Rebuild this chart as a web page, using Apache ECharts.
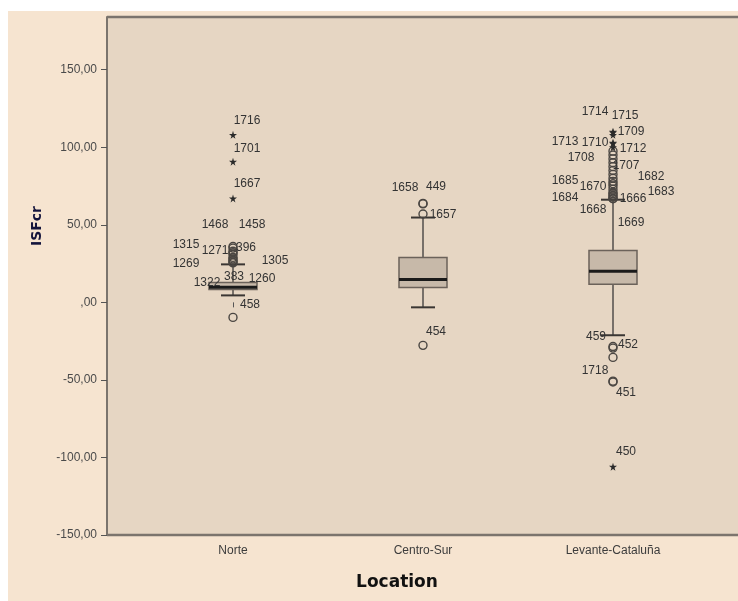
<!DOCTYPE html>
<html>

<head>
    <meta charset="UTF-8">
    <title>ISFcr by Location</title>
    <script src="https://cdn.jsdelivr.net/npm/echarts@6/dist/echarts.min.js"></script>
    <style>
        body { margin: 0; background: #ffffff; }
    </style>
</head>

<body>
    <div id="main" style="width: 738px; height: 601px;"></div>
    <script>
        // categories on the x axis
        const categories = ['Norte', 'Centro-Sur', 'Levante-Cataluña'];

        // box statistics: [lower whisker, Q1, median, Q3, upper whisker]
        const boxStats = [
            [4.5, 8.3, 9.8, 12.8, 24.5],
            [-3.2, 9.6, 14.8, 29.0, 54.7],
            [-21.2, 11.6, 20.0, 33.5, 66.2]
        ];

        // outliers (circles), per location
        const norteOutliers = [36, 35, 33, 32, 31, 29, 28, 27, 26, 25.5, -9.7];
        const norteOutlierIds = ['1468', '1458', '1315', '1271', '396', '1269', '1305', '1322', '383', '1260', '458'];
        const centroOutliers = [63.8, 63.5, 57, -27.7];
        const centroOutlierIds = ['1658', '449', '1657', '454'];
        const levanteOutliers = [97.5, 95, 92.5, 90, 87.5, 85, 82.5, 80, 78, 76.5, 75, 73, 71, 70, 69, 68, 67, 66.8,
            -28.5, -29.5, -35.5, -50.8, -51.3];
        const levanteOutlierIds = ['', '1708', '', '1707', '', '1682', '', '1685', '1670', '', '1683', '', '1684', '1666', '', '1668', '1669', '',
            '459', '452', '', '1718', '451'];

        // extreme values (stars), per location
        const norteExtremes = [108, 90.7, 67];
        const norteExtremeIds = ['1716', '1701', '1667'];
        const levanteExtremes = [110, 109.5, 108, 103, 102.5, 100, -106];
        const levanteExtremeIds = ['1714', '1715', '1709', '1713', '1710', '1712', '450'];

        // y tick labels
        const yTicks = [-150, -100, -50, 0, 50, 100, 150];

        // where each case label sits relative to its point (px)
        const labelOffset = {
            '1716': [14, -14], '1701': [14, -13], '1667': [14, -15],
            '1468': [-18, -22], '1458': [19, -23], '1315': [-47, -6], '1271': [-18, -2], '396': [13, -7],
            '1269': [-47, 6], '1305': [42, 2], '1322': [-26, 22], '383': [1, 15], '1260': [29, 16], '458': [17, -13],
            '1658': [-18, -16], '449': [13, -17], '1657': [20, 1], '454': [13, -14],
            '1714': [-18, -20], '1715': [12, -17], '1709': [18, -3], '1713': [-48, -1], '1710': [-18, -1],
            '1712': [20, 1], '1708': [-32, 3], '1707': [13, 3], '1682': [38, 6], '1685': [-48, 2], '1670': [-20, 5],
            '1683': [48, 6], '1684': [-48, 5], '1666': [20, 5], '1668': [-20, 13], '1669': [18, 24],
            '459': [-17, -10], '452': [15, -3], '1718': [-18, -10], '451': [13, 11], '450': [13, -15]
        };

        const starPath = 'path://M50,0 L61,35 L98,35 L68,57 L79,91 L50,70 L21,91 L32,57 L2,35 L39,35 Z';

        const caseLabel = {
            color: '#333333',
            fontSize: 12,
            fontFamily: 'Liberation Sans',
            textBorderWidth: 0,
            textBorderColor: 'transparent',
            opacity: 1
        };

        function points(catIndex, values, ids) {
            return values.map((v, i) => {
                const id = ids[i];
                const item = { value: [catIndex, v] };
                if (id) {
                    item.label = Object.assign({
                        show: true,
                        formatter: id,
                        position: 'inside',
                        offset: labelOffset[id] || [14, -12]
                    }, caseLabel);
                }
                return item;
            });
        }

        const circleData = [].concat(
            points(0, norteOutliers, norteOutlierIds),
            points(1, centroOutliers, centroOutlierIds),
            points(2, levanteOutliers, levanteOutlierIds)
        );
        const starData = [].concat(
            points(0, norteExtremes, norteExtremeIds),
            points(2, levanteExtremes, levanteExtremeIds)
        );

        function renderBox(params, api) {
            const x = api.value(0);
            const lo = api.coord([x, api.value(1)]);
            const q1 = api.coord([x, api.value(2)]);
            const med = api.coord([x, api.value(3)]);
            const q3 = api.coord([x, api.value(4)]);
            const hi = api.coord([x, api.value(5)]);
            const cx = lo[0];
            const half = 24;
            const cap = 12;
            return {
                type: 'group',
                children: [
                    { type: 'line', shape: { x1: cx, y1: hi[1], x2: cx, y2: q3[1] }, style: { stroke: '#777069', lineWidth: 2 } },
                    { type: 'line', shape: { x1: cx, y1: q1[1], x2: cx, y2: lo[1] }, style: { stroke: '#777069', lineWidth: 2 } },
                    { type: 'line', shape: { x1: cx - cap, y1: hi[1], x2: cx + cap, y2: hi[1] }, style: { stroke: '#3a3633', lineWidth: 2 } },
                    { type: 'line', shape: { x1: cx - cap, y1: lo[1], x2: cx + cap, y2: lo[1] }, style: { stroke: '#3a3633', lineWidth: 2 } },
                    {
                        type: 'rect',
                        shape: { x: cx - half, y: q3[1], width: half * 2, height: q1[1] - q3[1] },
                        style: { fill: '#c7b9a9', stroke: '#6b625a', lineWidth: 1.5 }
                    },
                    { type: 'line', shape: { x1: cx - half, y1: med[1], x2: cx + half, y2: med[1] }, style: { stroke: '#1a1a1a', lineWidth: 3 } }
                ]
            };
        }

        const fmt = v => (v === 0 ? ',00' : v.toFixed(2).replace('.', ','));

        const option = {
            animation: false,
            graphic: [
                { type: 'rect', z: -10, shape: { x: 8, y: 11, width: 730, height: 590 }, style: { fill: '#f6e4d0' } },
                { type: 'rect', z: -9, shape: { x: 107, y: 17, width: 631, height: 518 }, style: { fill: '#e6d6c3' } },
                { type: 'line', z: 5, shape: { x1: 107, y1: 17, x2: 738, y2: 17 }, style: { stroke: '#7b746d', lineWidth: 2.5 } },
                { type: 'line', z: 5, shape: { x1: 107, y1: 535, x2: 738, y2: 535 }, style: { stroke: '#7b746d', lineWidth: 2.5 } },
                {
                    type: 'text', x: 37, y: 226, rotation: Math.PI / 2,
                    style: {
                        text: 'ISFcr', fill: '#14143c', font: 'bold 14px "DejaVu Sans"',
                        textAlign: 'center', textVerticalAlign: 'middle'
                    }
                },
                {
                    type: 'text', x: 397, y: 583,
                    style: {
                        text: 'Location', fill: '#111111', font: 'bold 17px "DejaVu Sans"',
                        textAlign: 'center', textVerticalAlign: 'middle'
                    }
                }
            ],
            grid: { left: 138, right: 30, top: 17, bottom: 66 },
            xAxis: {
                type: 'category',
                data: categories,
                axisLine: { show: false },
                axisTick: { show: true, alignWithLabel: true, length: 5, lineStyle: { color: '#555555' } },
                axisLabel: { margin: 10, fontSize: 12, color: '#3c3c3c', fontFamily: 'Liberation Sans' },
                splitLine: { show: false }
            },
            yAxis: {
                type: 'value',
                min: -150,
                max: 184,
                offset: 31,
                axisLine: { show: true, lineStyle: { color: '#7b746d', width: 2 } },
                axisTick: { show: true, length: 6, customValues: yTicks, lineStyle: { color: '#555555' } },
                axisLabel: { customValues: yTicks, formatter: fmt, fontSize: 12, color: '#4a4a4a', margin: 10, fontFamily: 'Liberation Sans' },
                splitLine: { show: false }
            },
            series: [
                {
                    type: 'custom',
                    renderItem: renderBox,
                    data: boxStats.map((s, i) => [i].concat(s)),
                    z: 2
                },
                {
                    type: 'scatter',
                    symbol: 'circle',
                    symbolSize: 8,
                    itemStyle: { color: 'rgba(230,214,195,0)', borderColor: '#4a4642', borderWidth: 1.4, opacity: 1 },
                    label: caseLabel,
                    data: circleData,
                    z: 3
                },
                {
                    type: 'scatter',
                    symbol: starPath,
                    symbolSize: 8,
                    itemStyle: { color: '#2a2a2a', opacity: 1 },
                    label: caseLabel,
                    data: starData,
                    z: 3
                }
            ]
        };

        const myChart = echarts.init(document.getElementById('main'));
        myChart.setOption(option);
    </script>
</body>

</html>
